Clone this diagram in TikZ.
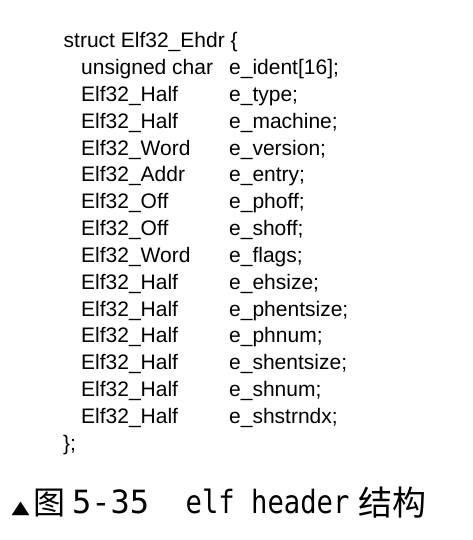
\documentclass[tikz,border=0pt]{standalone}
\usepackage{fontspec}
\setmainfont{Liberation Sans}
\newfontfamily\cjk{Noto Sans CJK SC}
\newfontfamily\capmono{DejaVu Sans Mono}
\newfontfamily\capmononarrow[FakeStretch=0.85]{DejaVu Sans Mono}
\newfontfamily\symb[FakeStretch=1.3]{DejaVu Sans}
\tikzset{
  codetext/.style={anchor=base west, inner sep=0pt, text=black, font=\fontsize{21}{25}\selectfont},
  captext/.style={anchor=base west, inner sep=0pt, text=black},
}
\begin{document}
\begin{tikzpicture}[x=1pt,y=-1pt]
\useasboundingbox[fill=white] (0,0) rectangle (472,540);
\def\ca{81}
\def\cb{229}
\node[codetext] (head) at (63.5,48) {struct Elf32\_Ehdr \{};
\node[codetext] (t1)  at (\ca,74.8)  {unsigned char};
\node[codetext] (f1)  at (\cb,74.8)  {e\_ident[16];};
\node[codetext] (t2)  at (\ca,101.6) {Elf32\_Half};
\node[codetext] (f2)  at (\cb,101.6) {e\_type;};
\node[codetext] (t3)  at (\ca,128.4) {Elf32\_Half};
\node[codetext] (f3)  at (\cb,128.4) {e\_machine;};
\node[codetext] (t4)  at (\ca,155.2) {Elf32\_Word};
\node[codetext] (f4)  at (\cb,155.2) {e\_version;};
\node[codetext] (t5)  at (\ca,182.0) {Elf32\_Addr};
\node[codetext] (f5)  at (\cb,182.0) {e\_entry;};
\node[codetext] (t6)  at (\ca,208.8) {Elf32\_Off};
\node[codetext] (f6)  at (\cb,208.8) {e\_phoff;};
\node[codetext] (t7)  at (\ca,235.6) {Elf32\_Off};
\node[codetext] (f7)  at (\cb,235.6) {e\_shoff;};
\node[codetext] (t8)  at (\ca,262.4) {Elf32\_Word};
\node[codetext] (f8)  at (\cb,262.4) {e\_flags;};
\node[codetext] (t9)  at (\ca,289.2) {Elf32\_Half};
\node[codetext] (f9)  at (\cb,289.2) {e\_ehsize;};
\node[codetext] (t10) at (\ca,316.0) {Elf32\_Half};
\node[codetext] (f10) at (\cb,316.0) {e\_phentsize;};
\node[codetext] (t11) at (\ca,342.8) {Elf32\_Half};
\node[codetext] (f11) at (\cb,342.8) {e\_phnum;};
\node[codetext] (t12) at (\ca,369.6) {Elf32\_Half};
\node[codetext] (f12) at (\cb,369.6) {e\_shentsize;};
\node[codetext] (t13) at (\ca,396.4) {Elf32\_Half};
\node[codetext] (f13) at (\cb,396.4) {e\_shnum;};
\node[codetext] (t14) at (\ca,423.2) {Elf32\_Half};
\node[codetext] (f14) at (\cb,423.2) {e\_shstrndx;};
\node[codetext] (tail) at (63,450) {\};};
% caption
\node[captext, font=\symb\fontsize{18}{20}\selectfont] (tri) at (11.5,513) {▲};
\node[captext, font=\cjk\fontsize{32}{34}\selectfont] (fig) at (33,514) {图};
\node[captext, font=\capmono\fontsize{32}{34}\selectfont] (num) at (72,513) {5-35};
\node[captext, font=\capmononarrow\fontsize{32}{34}\selectfont] (elf) at (185.5,513) {elf header};
\node[captext, font=\cjk\fontsize{34}{36}\selectfont] (jg) at (358,515) {结构};
\end{tikzpicture}
\end{document}
